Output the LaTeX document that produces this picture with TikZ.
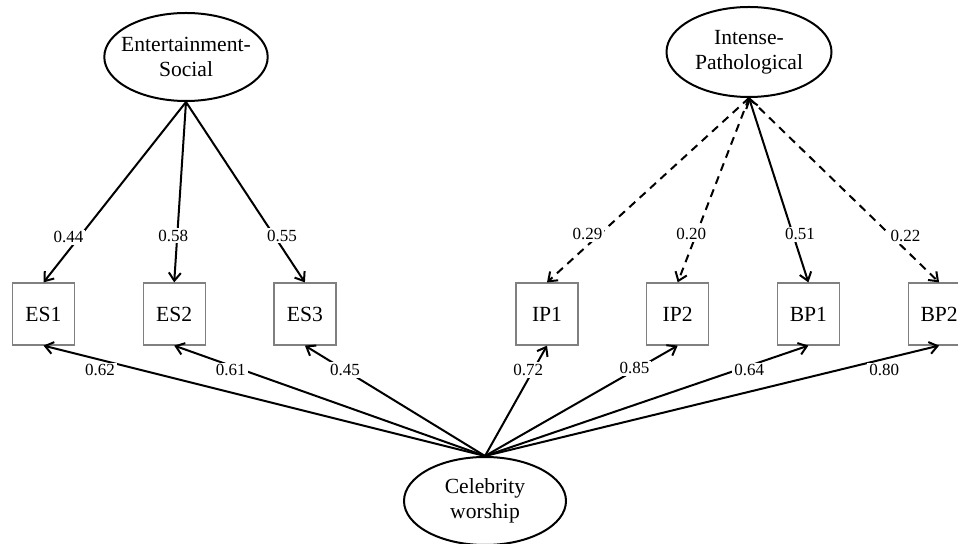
\documentclass[tikz,border=0pt]{standalone}
\usepackage{fontspec}
\setmainfont{Liberation Serif}
\usetikzlibrary{arrows.meta,positioning,shapes.geometric}
\tikzset{
  latent/.style={draw, ellipse, line width=1pt, inner sep=0pt, align=center,
    minimum width=81pt, minimum height=44pt, font=\fontsize{10.8}{12.5}\selectfont},
  box/.style={draw=gray, line width=0.6pt, minimum size=31pt, inner sep=0pt,
    font=\fontsize{10.8}{12.5}\selectfont},
  edge/.style={-{Straight Barb[length=4pt,width=6pt]}, line width=1pt},
  faintedge/.style={edge, dash pattern=on 4pt off 3pt},
  lbl/.style={fill=white, inner sep=1pt, font=\fontsize{8.5}{10}\selectfont}
}
\begin{document}
\begin{tikzpicture}[x=0.5pt, y=-0.5pt, node distance=0pt and 33.75pt]
\useasboundingbox (0,0) rectangle (958,544);
% latent factors
\node[latent, inner xsep=-3.5pt] (es) at (186,57) {Entertainment-\\Social};
\node[latent, minimum width=82.5pt, minimum height=45pt] (ip) at (749,52) {Intense-\\Pathological};
\node[latent] (cw) at (485,501) {Celebrity\\worship};
% indicators
\node[box] (es1) at (43.5,314) {ES1};
\node[box, right=of es1] (es2) {ES2};
\node[box, right=of es2] (es3) {ES3};
\node[box] (ip1) at (547,314) {IP1};
\node[box, right=of ip1] (ip2) {IP2};
\node[box, right=of ip2] (bp1) {BP1};
\node[box, right=of bp1] (bp2) {BP2};

\draw[edge] (es.south) -- node[lbl, pos=0.75, xshift=-5.3pt]{0.44} (es1.north);
\draw[edge] (es.south) -- node[lbl, pos=0.74, xshift=-2pt]{0.58} (es2.north);
\draw[edge] (es.south) -- node[lbl, pos=0.74, xshift=4pt]{0.55} (es3.north);
\draw[faintedge] (ip.south) -- node[lbl, pos=0.74, xshift=-6pt]{0.29} (ip1.north);
\draw[faintedge] (ip.south) -- node[lbl, pos=0.74, xshift=-2.5pt]{0.20} (ip2.north);
\draw[edge, {Straight Barb[length=4pt,width=6pt]}-{Straight Barb[length=4pt,width=6pt]}] (ip.south) -- node[lbl, pos=0.74, xshift=3.5pt]{0.51} (bp1.north);
\draw[faintedge] (ip.south) -- node[lbl, pos=0.75, xshift=7pt]{0.22} (bp2.north);

\draw[edge] (cw.north) -- node[lbl, pos=0.872, yshift=-5.3pt]{0.62} (es1.south);
\draw[edge] (cw.north) -- node[lbl, pos=0.818, yshift=-2.3pt]{0.61} (es2.south);
\draw[edge] (cw.north) -- node[lbl, pos=0.777]{0.45} (es3.south);
\draw[edge] (cw.north) -- node[lbl, pos=0.777, xshift=-2.5pt]{0.72} (ip1.south);
\draw[edge] (cw.north) -- node[lbl, pos=0.776, yshift=1pt]{0.85} (ip2.south);
\draw[edge] (cw.north) -- node[lbl, pos=0.817, yshift=-2.3pt]{0.64} (bp1.south);
\draw[edge] (cw.north) -- node[lbl, pos=0.879, yshift=-5.7pt]{0.80} (bp2.south);
\end{tikzpicture}
\end{document}
